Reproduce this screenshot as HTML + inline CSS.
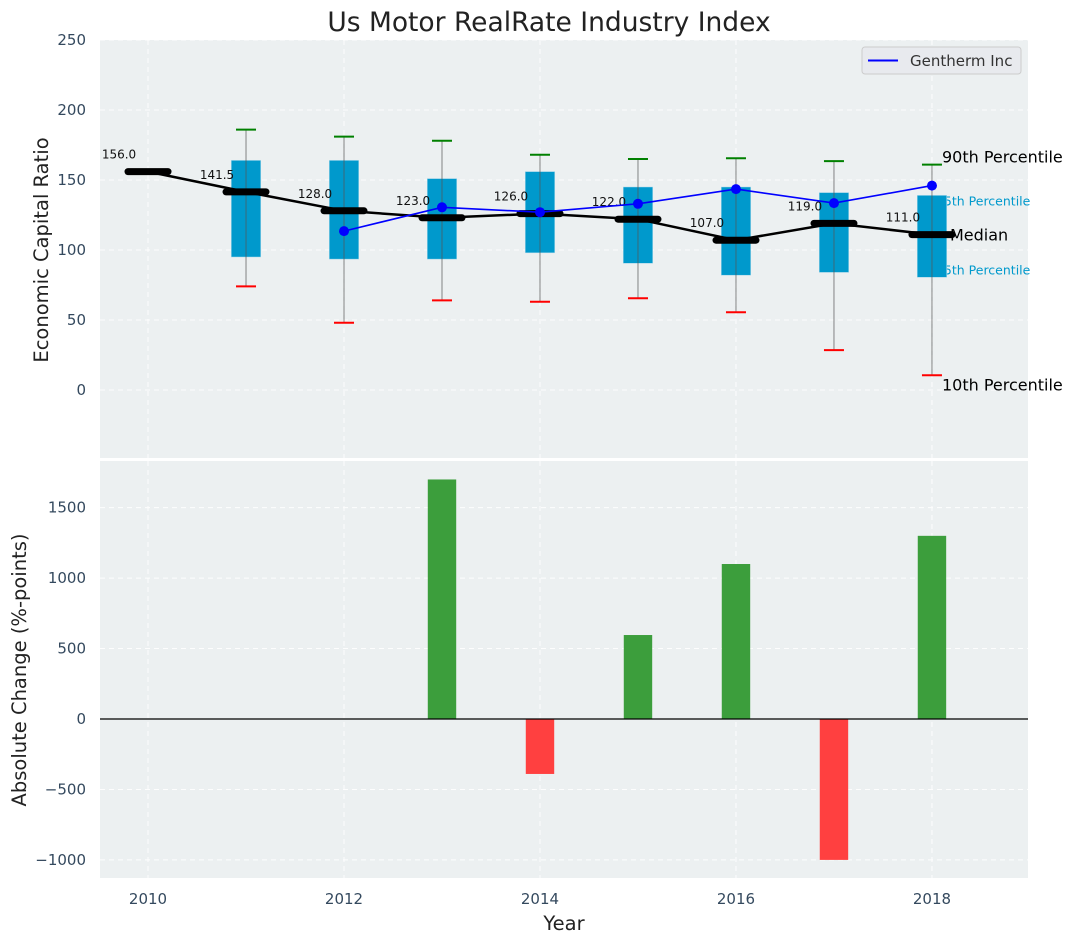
<!DOCTYPE html>
<html><head><meta charset="utf-8"><style>
html,body{margin:0;padding:0;background:#fff;}
svg{display:block;font-family:"DejaVu Sans","Liberation Sans",sans-serif;}
</style></head><body>
<svg id="chart" width="1077" height="942" viewBox="0 0 1077 942" xmlns="http://www.w3.org/2000/svg"></svg>
<script>
const years=[2010,2011,2012,2013,2014,2015,2016,2017,2018];
const medians=[156,141.5,128,123,126,122,107,119,111];
const q75=[null,164,164,151,156,145,145,141,139];
const q25=[null,95,93.5,93.5,98,90.5,82,84,80.5];
const p90=[null,186,181,178,168,165,165.5,163.5,161];
const p10=[null,74,48,64,63,65.5,55.5,28.5,10.5];
const companyYears=[2012,2013,2014,2015,2016,2017,2018];
const companyVals=[113.5,130.5,127,133,143.5,133.5,146];
const changeYears=[2013,2014,2015,2016,2017,2018];
const changeVals=[1700,-390,596,1100,-1000,1300];
const topTicks=[0,50,100,150,200,250];
const botTicks=[-1000,-500,0,500,1000,1500];
const xTicks=[2010,2012,2014,2016,2018];

const svg=document.getElementById('chart');
const NS='http://www.w3.org/2000/svg';
function mk(tag,attrs,parent,text){const e=document.createElementNS(NS,tag);for(const k in attrs)e.setAttribute(k,attrs[k]);if(text!==undefined)e.textContent=text;(parent||svg).appendChild(e);return e;}
const L=100,R=1028,T1=40,B1=458,T2=461,B2=878;
const x=v=>L+(v-2009.51)/(2018.98-2009.51)*(R-L);
const yT=v=>390-v*1.4;
const yB=v=>719-v*0.1409;

let t=mk('text',{x:549,y:31,'text-anchor':'middle','font-size':26.5,fill:'#222'},svg,'Us Motor RealRate Industry Index');


let p1=mk('rect',{x:L,y:T1,width:R-L,height:B1-T1,fill:'#ecf0f1'});

let p2=mk('rect',{x:L,y:T2,width:R-L,height:B2-T2,fill:'#ecf0f1'});


const grid=mk('g',{stroke:'#fff','stroke-dasharray':'5,4','stroke-width':1,opacity:0.9});

xTicks.forEach(v=>{mk('line',{x1:x(v),x2:x(v),y1:T1,y2:B1},grid);mk('line',{x1:x(v),x2:x(v),y1:T2,y2:B2},grid);});
topTicks.forEach(v=>mk('line',{x1:L,x2:R,y1:yT(v),y2:yT(v)},grid));
botTicks.forEach(v=>mk('line',{x1:L,x2:R,y1:yB(v),y2:yB(v)},grid));

const tk=mk('g',{fill:'#34495e','font-size':15});

topTicks.forEach(v=>mk('text',{x:86,y:yT(v)+5,'text-anchor':'end'},tk,String(v)));
botTicks.forEach(v=>mk('text',{x:86,y:yB(v)+5,'text-anchor':'end'},tk,String(v).replace('-','\u2212')));
xTicks.forEach(v=>mk('text',{x:x(v),y:904,'text-anchor':'middle'},tk,String(v)));

let a=mk('text',{x:48,y:250,'text-anchor':'middle','font-size':19.5,fill:'#222',transform:'rotate(-90 48 250)'},svg,'Economic Capital Ratio');

a=mk('text',{x:26,y:670,'text-anchor':'middle','font-size':19.5,fill:'#222',transform:'rotate(-90 26 670)'},svg,'Absolute Change (%-points)');

a=mk('text',{x:564,y:930,'text-anchor':'middle','font-size':19.5,fill:'#222'},svg,'Year');


const last=years.length-1;const lx=x(years[last]);
const pl=mk('g',{});

mk('text',{x:lx+10,y:yT(p90[last])-2,'font-size':16,fill:'#000'},pl,'90th Percentile');
mk('text',{x:lx+10,y:yT(p10[last])+15,'font-size':16,fill:'#000'},pl,'10th Percentile');
mk('text',{x:lx+4,y:yT(q75[last])+10,'font-size':12.5,fill:'#0099cc'},pl,'75th Percentile');
mk('text',{x:lx+4,y:yT(q25[last])-3,'font-size':12.5,fill:'#0099cc'},pl,'25th Percentile');

const bw=x(2010.15)-x(2009.85);
years.forEach((yr,i)=>{
  if(q75[i]===null)return;
  const g=mk('g',{});
  
  mk('rect',{x:x(yr)-bw/2,y:yT(q75[i]),width:bw,height:yT(q25[i])-yT(q75[i]),fill:'#0099cc',stroke:'#a8d8ea','stroke-width':0.5},g);
  mk('line',{x1:x(yr),x2:x(yr),y1:yT(p90[i]),y2:yT(p10[i]),stroke:'#555','stroke-width':1,opacity:0.7},g);
  mk('line',{x1:x(yr)-10,x2:x(yr)+10,y1:yT(p90[i]),y2:yT(p90[i]),stroke:'green','stroke-width':2},g);
  mk('line',{x1:x(yr)-10,x2:x(yr)+10,y1:yT(p10[i]),y2:yT(p10[i]),stroke:'red','stroke-width':2},g);
});
mk('text',{x:lx+18,y:yT(medians[last])+6,'font-size':16,fill:'#000'},pl,'Median');

let mp=mk('polyline',{points:years.map((yr,i)=>x(yr)+','+yT(medians[i])).join(' '),fill:'none',stroke:'#000','stroke-width':2.5});

years.forEach((yr,i)=>{
  let m=mk('line',{x1:x(yr)-20,x2:x(yr)+20,y1:yT(medians[i]),y2:yT(medians[i]),stroke:'#000','stroke-width':7,'stroke-linecap':'round'});
  
  let lb=mk('text',{x:x(yr)-29,y:yT(medians[i])-13,'text-anchor':'middle','font-size':12,fill:'#111'},svg,medians[i].toFixed(1));
  
});

let cl=mk('polyline',{points:companyYears.map((yr,i)=>x(yr)+','+yT(companyVals[i])).join(' '),fill:'none',stroke:'blue','stroke-width':1.6});

companyYears.forEach((yr,i)=>{
  let c=mk('circle',{cx:x(yr),cy:yT(companyVals[i]),r:5,fill:'blue'});
  
});

const lg=mk('g',{});

mk('rect',{x:862,y:47,width:159,height:27,rx:3,fill:'#e8eaee',stroke:'#ccc'},lg);
mk('line',{x1:868,x2:898,y1:60.5,y2:60.5,stroke:'blue','stroke-width':2},lg);
mk('text',{x:910,y:66,'font-size':15,fill:'#333'},lg,'Gentherm Inc');

const barW=x(2010.145)-x(2009.855);
changeYears.forEach((yr,i)=>{
  const v=changeVals[i];
  let b=mk('rect',{x:x(yr)-barW/2,y:Math.min(yB(v),yB(0)),width:barW,height:Math.abs(yB(v)-yB(0)),fill:v>=0?'#3c9e3c':'#ff4040'});
  
});
let z=mk('line',{x1:L,x2:R,y1:yB(0),y2:yB(0),stroke:'#000','stroke-width':1.2});

</script>
</body></html>
